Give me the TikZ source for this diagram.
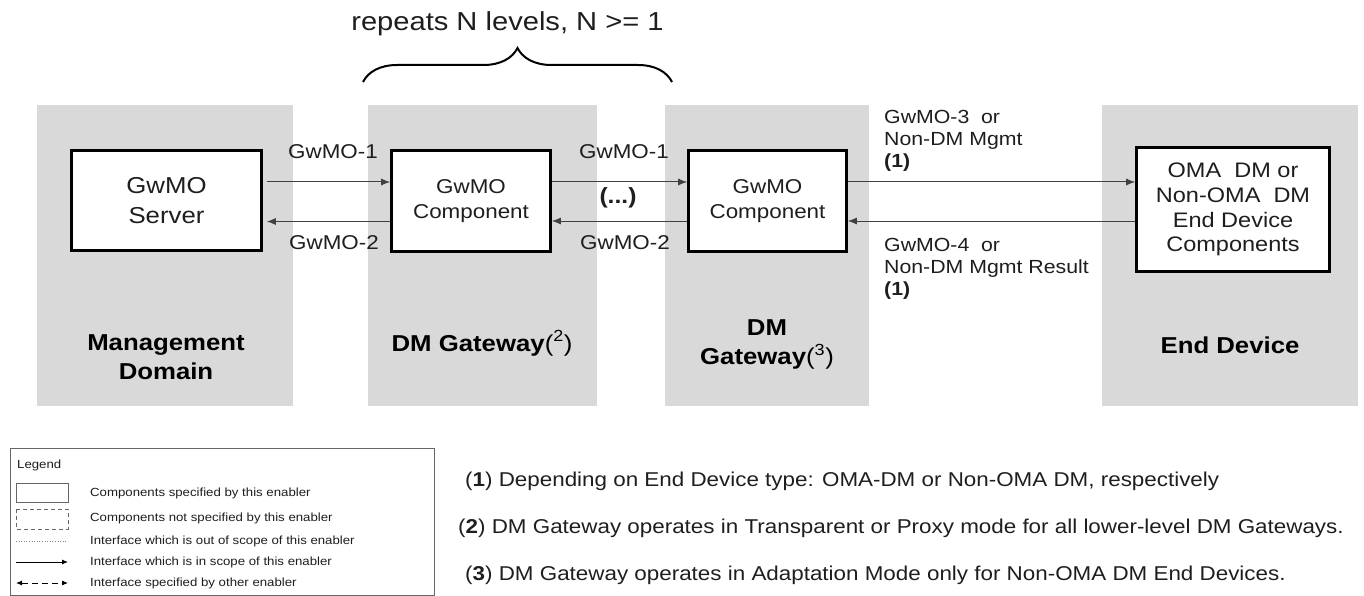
\documentclass[tikz,border=0pt]{standalone}
\usepackage{fontspec}
\setmainfont[FakeStretch=1.12]{Liberation Sans}
\usetikzlibrary{arrows.meta,decorations.pathreplacing,positioning}
\definecolor{panelgray}{RGB}{217,217,217}
\definecolor{linegray}{RGB}{64,64,64}
\definecolor{inkgray}{RGB}{30,30,30}
\tikzset{
    panel/.style={fill=panelgray,inner sep=0pt},
    box/.style={draw=black,line width=2.6pt,fill=white,align=center,inner sep=0pt,text=inkgray},
    flow/.style={draw=linegray,line width=1pt,-{Latex[length=9pt,width=7pt]}},
    lbl/.style={font=\fontsize{19}{22}\selectfont,text=inkgray,inner sep=0pt,align=left},
    zone/.style={font=\fontsize{23}{29}\selectfont\bfseries,text=black,inner sep=0pt,align=center},
    legtxt/.style={font=\fontsize{11.8}{14}\selectfont,text=inkgray,inner sep=0pt,anchor=west},
    note/.style={font=\fontsize{20}{24}\selectfont,text=inkgray,inner sep=0pt,anchor=west}
}
\begin{document}
\begin{tikzpicture}[x=1pt,y=-1pt]
\useasboundingbox (0,0) rectangle (1364,596);
\def\agap{4pt}
    %Paneles
    \node[panel,minimum width=256pt,minimum height=301pt] (mgmtpanel) at (165,255.5) {};
    \node[panel,minimum width=229pt,minimum height=301pt] (gwpanel) at (482.5,255.5) {};
    \node[panel,minimum width=204pt,minimum height=301pt] (gwlastpanel) at (767,255.5) {};
    \node[panel,minimum width=256pt,minimum height=301pt] (devpanel) at (1230,255.5) {};

    %Llave
    \node[font=\fontsize{26}{30}\selectfont,text=inkgray,anchor=base] (repeats) at (507.5,31) {repeats N levels, N >= 1};
    \coordinate (braceL) at (363,82);
    \coordinate (braceR) at (672,82);
    \draw[decorate,decoration={brace,amplitude=34pt},line width=2pt] (braceL) -- (braceR);

    %Cajas
    \node[box,minimum width=190pt,minimum height=100pt,font=\fontsize{23}{30}\selectfont] (server) at (166.5,200.5) {GwMO\\Server};
    \node[box,minimum width=159pt,minimum height=101pt,font=\fontsize{20}{25}\selectfont] (comp) at (471,201) {GwMO\\Component};
    \node[box,minimum width=158pt,minimum height=101pt,font=\fontsize{20}{25}\selectfont] (complast) at (767.5,201) {GwMO\\Component};
    \node[box,minimum width=193pt,minimum height=124pt,font=\fontsize{21}{24.7}\selectfont] (enddev) at (1233,209.5) {OMA\ \ DM or\\Non-OMA\ \ DM\\End Device\\Components};

    %Flechas
    \draw[flow,shorten <=\agap] ([yshift=18.5pt]server.east) -- ([yshift=18.5pt]server.east -| comp.west);
    \draw[flow,shorten >=\agap] ([yshift=-20.5pt]comp.west) -- ([yshift=-20.5pt]comp.west -| server.east);
    \draw[flow] ([yshift=19pt]comp.east) -- ([yshift=19pt]comp.east -| complast.west);
    \draw[flow] ([yshift=-20pt]complast.west) -- ([yshift=-20pt]complast.west -| comp.east);
    \draw[flow] ([yshift=19pt]complast.east) -- ([yshift=19pt]complast.east -| enddev.west);
    \draw[flow] ([yshift=-20pt]complast.east -| enddev.west) -- ([yshift=-20pt]complast.east);

    %Etiquetas
    \node[lbl,font=\fontsize{20}{22}\selectfont] (req) at (333,152) {GwMO-1};
    \node[lbl,font=\fontsize{20}{22}\selectfont] (resp) at (334,243) {GwMO-2};
    \node[lbl,font=\fontsize{20}{22}\selectfont] (reqlast) at (624,152) {GwMO-1};
    \node[lbl,font=\fontsize{20}{22}\selectfont] (resplast) at (625,243) {GwMO-2};
    \node[lbl,font=\fontsize{22}{22}\selectfont\bfseries] (dots) at (618,198) {(...)};
    \node[lbl,anchor=north west] (mgmtreq) at (884,110) {GwMO-3\ \ or\\Non-DM Mgmt\\\textbf{(1)}};
    \node[lbl,anchor=north west] (mgmtresp) at (884,238) {GwMO-4\ \ or\\Non-DM Mgmt Result\\\textbf{(1)}};

    %Dominios
    \node[zone] (mgmtname) at (166,357.5) {Management\\Domain};
    \node[zone,anchor=base] (gwname) at (482,351) {DM Gateway\mdseries(\textsuperscript{2})};
    \node[zone] (gwlastname) at (767,344.5) {DM\\Gateway\mdseries(\textsuperscript{3})};
    \node[zone,anchor=base] (devname) at (1230,353) {End Device};

    %Leyenda
    \node[draw=black!60,line width=1pt,minimum width=424pt,minimum height=147pt,inner sep=0pt] (legend) at (222,521.5) {};
    \node[legtxt] (legtitle) at (17,465) {Legend};
    \draw[black!60,line width=0.8pt] (16,483) rectangle (68,502);
    \draw[black!60,line width=0.8pt,dash pattern=on 4pt off 3pt] (16,509) rectangle (68,529);
    \draw[black!50,line width=0.6pt,dotted] (16,541) -- (68,541);
    \draw[black,line width=0.9pt,-{Latex[length=6pt,width=5pt]}] (16,562) -- (68,562);
    \draw[black,line width=0.9pt,dash pattern=on 6pt off 4pt,{Latex[length=6pt,width=5pt]}-{Latex[length=6pt,width=5pt]}] (16,583) -- (68,583);
    \foreach \y/\t in {493/Components specified by this enabler,
                       518/Components not specified by this enabler,
                       541/Interface which is out of scope of this enabler,
                       562/Interface which is in scope of this enabler,
                       583/Interface specified by other enabler}{
        \node[legtxt] at (90,\y) {\t};
    }

    %Notas
    \node[note] (noteone) at (465,481) {(\textbf{1}) Depending on End Device type: OMA-DM or Non-OMA DM, respectively};
    \node[note] (notetwo) at (458,528) {(\textbf{2}) DM Gateway operates in Transparent or Proxy mode for all lower-level DM Gateways.};
    \node[note] (notethree) at (465,575) {(\textbf{3}) DM Gateway operates in Adaptation Mode only for Non-OMA DM End Devices.};
\end{tikzpicture}
\end{document}
